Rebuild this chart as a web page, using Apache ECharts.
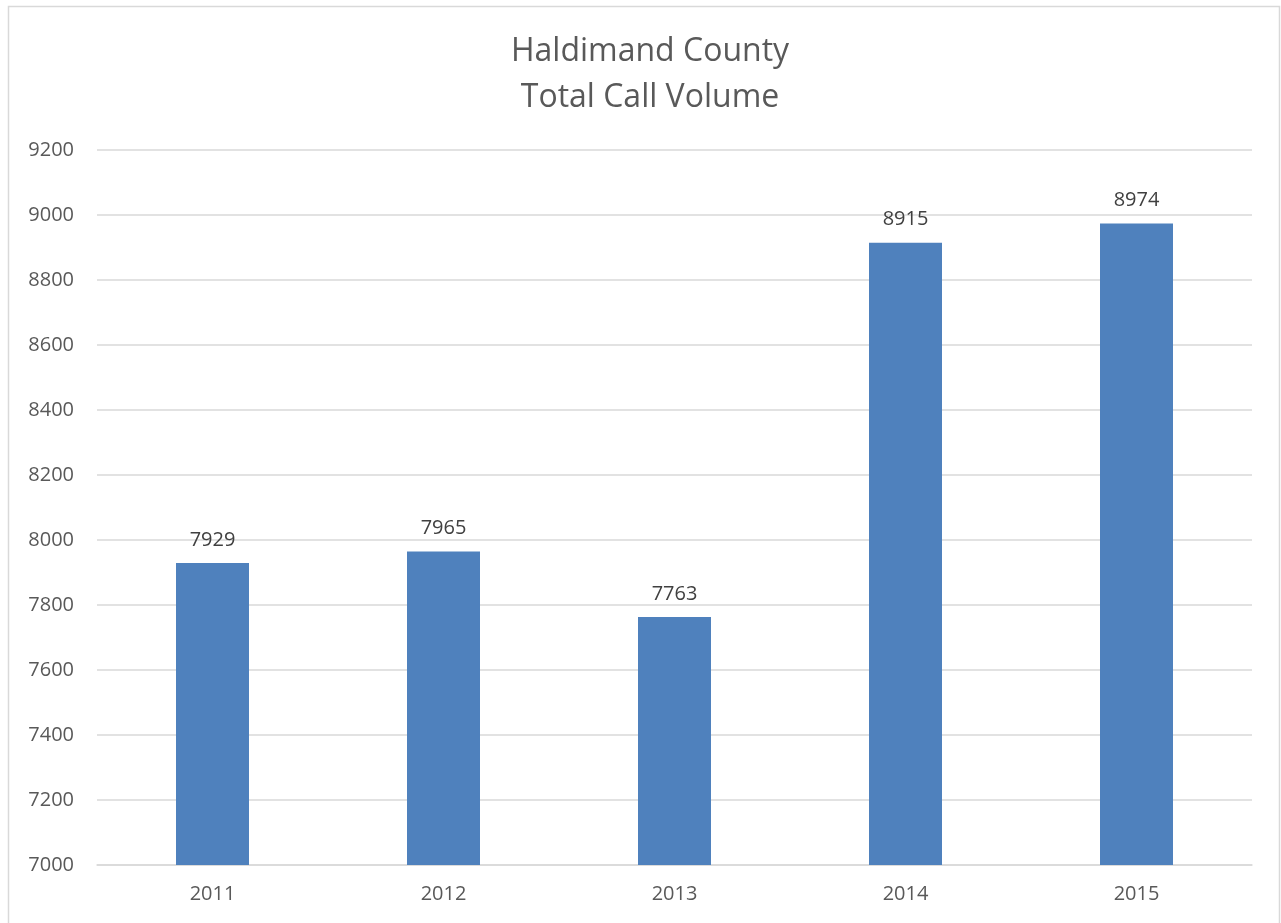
<!DOCTYPE html>
<html><head><meta charset="utf-8">
<script src="https://cdn.jsdelivr.net/npm/echarts@6/dist/echarts.min.js"></script>
<style>html,body{margin:0;padding:0;background:#fff}#c{width:1281px;height:923px}</style>
</head><body><div id="c"></div>
<script>
const categories = ['2011','2012','2013','2014','2015'];
const callVolume = [7929, 7965, 7763, 8915, 8974];
const titleLines = ['Haldimand County', 'Total Call Volume'];

const chart = echarts.init(document.getElementById('c'));
const font = 'Open Sans';
chart.setOption({
  backgroundColor: '#fff',
  animation: false,
  title: {
    text: titleLines.join('\n'),
    left: 645, textAlign: 'center', top: 24,
    textStyle: { fontFamily: font, fontSize: 32, fontWeight: 'normal', color: '#595959', lineHeight: 46 }
  },
  graphic: [{
    type: 'rect', shape: { x: 8.5, y: 6.5, width: 1271, height: 930 },
    style: { fill: 'none', stroke: '#d9d9d9', lineWidth: 1.5 }, silent: true
  }],
  grid: { left: 97, right: 29, top: 150, bottom: 58, containLabel: false },
  xAxis: {
    type: 'category', data: categories,
    axisLine: { lineStyle: { color: '#d9d9d9', width: 1.5 } },
    axisTick: { show: false },
    axisLabel: { fontFamily: font, fontSize: 20, color: '#595959', margin: 19 }
  },
  yAxis: {
    type: 'value', min: 7000, max: 9200, interval: 200,
    axisLine: { show: false }, axisTick: { show: false },
    splitLine: { lineStyle: { color: '#d9d9d9', width: 1.5 } },
    axisLabel: { fontFamily: font, fontSize: 20, color: '#595959', margin: 23, formatter: v => String(v) }
  },
  series: [{
    type: 'bar', data: callVolume, barWidth: 73,
    itemStyle: { color: '#4f81bd' },
    label: { show: true, position: 'top', distance: 13, fontFamily: font, fontSize: 20, color: '#404040' }
  }]
});
</script></body></html>
